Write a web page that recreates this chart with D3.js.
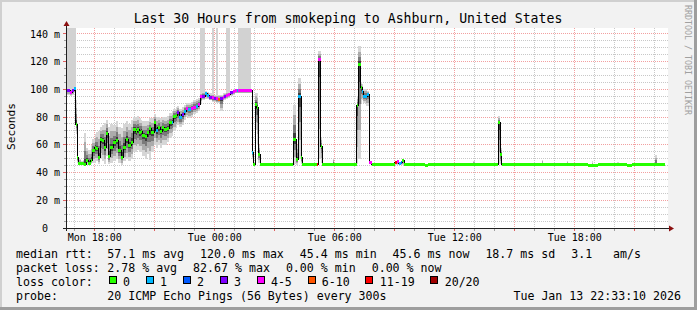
<!DOCTYPE html>
<html><head><meta charset="utf-8">
<script src="https://cdn.jsdelivr.net/npm/d3@7"></script>
<style>
html,body{margin:0;padding:0;background:#f2f2f2;}
svg{display:block;}
text{font-family:"DejaVu Sans Mono",monospace;white-space:pre;}
</style></head><body>
<svg id="c" width="697" height="310"></svg>
<script>
// ---------- data (time = hours since Mon 00:00) ----------
const times = [16.635,16.785,16.885,16.985,17.06,17.135,17.2,17.31,17.41,17.485,17.585,17.685,17.81,17.885,18.01,18.085,18.185,18.285,18.385,18.485,18.585,18.685,18.785,18.935,19.06,19.185,19.335,19.435,19.56,19.685,19.835,19.935,20.06,20.15,20.25,20.335,20.4,20.535,20.65,20.75,20.835,20.985,21.07,21.17,21.285,21.4,21.5,21.62,21.735,21.87,21.95,22.07,22.15,22.25,22.37,22.485,22.585,22.7,22.82,22.95,23.07,23.2,23.285,23.4,23.535,23.65,23.75,23.87,23.985,24.085,24.2,24.285,24.42,24.5,24.56,24.7,24.785,24.92,25.035,25.135,25.2,25.37,25.535,25.7,25.835,25.9,25.95,26.035,26.12,26.185,26.285,27.16,27.235,27.95,28.085,28.2,28.335,28.385,29.135,29.2,29.32,29.4,29.91,29.985,31.12,31.2,31.32,31.385,31.45,31.57,31.65,31.75,31.86,31.935,33.01,33.11,33.21,33.31,33.385,33.485,34.535,34.7,36.95,37.035,38.185,38.285,38.37,40.37,40.45,41.62,41.7,42.7,42.87,42.95,43.2,44.15,44.235,44.635,44.885,46.035,46.135,46.535];
const median = [99.0,97.4,99.0,100.3,74.5,50.7,46.4,46.4,46.4,46.0,49.0,46.4,49.0,55.8,57.7,57.0,50.7,63.7,63.0,57.7,67.8,51.7,57.7,61.3,63.0,55.8,51.0,58.2,63.7,59.4,61.8,70.9,69.7,70.9,69.0,69.7,66.6,65.7,68.5,71.4,68.5,75.7,70.2,72.1,69.7,72.1,70.9,71.6,75.7,76.2,80.5,81.0,83.0,79.4,81.7,84.1,85.8,85.4,85.8,87.0,87.7,89.0,94.5,95.0,96.9,95.5,93.8,93.8,93.3,93.0,92.6,93.3,94.2,94.5,95.5,96.2,97.4,98.6,99.1,99.1,99.1,99.1,99.1,99.1,99.1,54.5,45.7,89.0,86.6,52.9,45.6,45.6,45.6,63.7,49.3,95.0,50.5,45.6,45.6,121.4,58.9,45.6,45.6,45.6,88.2,117.8,101.0,98.6,95.0,95.0,96.2,47.3,46.0,45.6,47.3,47.8,46.2,47.0,48.5,45.6,45.0,45.6,45.6,45.6,75.7,52.9,45.6,45.6,45.6,45.6,45.6,45.0,45.0,45.0,45.6,45.6,45.6,45.0,45.6,45.6,45.6,45.6];
const smokeLo = [96,95,96,97,68,47,45.5,45.5,45.5,45.4,45.5,45.5,46,47,47,48,46,50,48,46,52,46,47,48,50,47,45.5,48,50,48,50,55,55,56,55,55,52,50,53,49,55,60,58,60,58,60,60,62,65,66,70,72,74,73,74,78,80,79,80,82,83,84,90,92,93,93,92,91,91,90,90,84,91,92,93,94,95,96,97,97,97,97,97,97,97,50,45.3,71,60,47,45.3,45.3,45.3,46,45.5,50,46,45.3,45.3,50,47,45.3,45.3,45.3,46,50,90,92,90,88,88,46,45.4,45.3,45.5,45.5,45.4,45.5,45.5,45.3,44.8,45.3,45.3,45.3,46,46,45.3,45.3,45.3,45.3,45.3,44.8,44.8,44.8,45.3,45.3,45.3,44.8,45.3,45.3,45.3,45.3];
const smokeHi = [101,100,101,102,92,60,50,48,49,68.5,58,56,60,64,68,69,70,73,74,76,78,73,75,74,77,73,72,75,77,75,78,80,80,81,79,78,77,77,77,79,79,82,80,80,79,80,80,81,83,84,86,87,88,86,87,89,90,90,91,92,93,94,97,98,99,98,97,97,96,96,96,96,97,97,98,98,99,100,100.5,100.5,100.5,100.5,100.5,100.5,100.5,60,47,97.6,97,60,46.2,47.5,46.2,89,60,108,58,46.2,46.2,127.4,65,46.2,50.5,46.2,95,131,105,104,100,100,99,48,46.5,46.2,48,48.5,47,48,49.5,46.2,46,46.2,48,46.2,80.5,58,46.2,49,46.2,48,46.2,46,48,46,46.2,47.5,46.2,46,46.2,52.9,46.2,46.2];
// highest outlier ping where it goes far above the normal spread (null = none)
const smokeMax = [150,150,150,150,null,null,null,null,null,null,null,null,null,null,null,null,null,null,null,null,null,null,null,null,null,null,null,null,null,null,null,null,null,null,null,null,null,null,null,null,null,null,null,null,null,null,null,null,null,null,null,null,null,null,null,null,null,null,null,null,null,null,150,150,null,null,null,150,null,150,null,null,null,null,150,150,null,null,null,null,150,150,150,150,null,null,null,null,null,null,null,null,null,null,null,null,null,null,null,null,null,null,null,null,null,null,null,null,null,null,null,null,null,null,null,null,null,null,null,null,null,null,null,null,null,null,null,null,null,null,null,null,null,null,null,null,null,null,null,null,null,null,null];
const lossIdx = [3,4,3,1,0,0,0,0,0,0,0,0,0,0,0,0,0,0,0,0,0,0,0,0,0,0,0,0,0,0,0,0,0,0,0,0,0,0,0,0,0,0,1,0,0,0,0,0,0,1,0,0,3,1,3,1,4,1,4,4,1,4,4,3,1,1,3,4,3,4,5,3,4,3,4,4,3,4,4,1,4,4,4,4,4,1,0,0,0,0,0,0,0,0,0,1,0,0,6,4,0,0,0,0,0,0,0,1,1,1,1,4,0,0,6,4,1,2,0,0,0,0,0,0,0,0,0,0,0,0,0,0,0,0,0,0,0,0,0,0,0,0];
const lossLabels = ["0","1","2","3","4-5","6-10","11-19","20/20"];
const lossColors = ["#26ff00","#00b8ff","#0059ff","#7e00ff","#ff00ff","#ff5500","#ff0000","#a00000"];
const yTicks = [0,20,40,60,80,100,120,140];
const xTickHours = [18,24,30,36,42];
const xTickLabels = ["Mon 18:00","Tue 00:00","Tue 06:00","Tue 12:00","Tue 18:00"];
const titleText = "Last 30 Hours from smokeping to Ashburn, United States";
const rttStats = ["57.1 ms avg","120.0 ms max","45.4 ms min","45.6 ms now","18.7 ms sd","3.1   am/s"];
const lossStats = ["2.78 % avg","82.67 % max","0.00 % min","0.00 % now"];
const probeText = "20 ICMP Echo Pings (56 Bytes) every 300s";
const stampText = "Tue Jan 13 22:33:10 2026";

// ---------- layout ----------
const W = 697, H = 310;
const PL = 67, PR = 668, PT = 28, PB = 228;
const x = d3.scaleLinear().domain([16.635, 46.635]).range([67, 667]);
const y = d3.scaleLinear().domain([0, 140]).range([228, 33.8]);
const CW = 6.98; // legend char width

const svg = d3.select("#c");
svg.append("rect").attr("width", W).attr("height", H).attr("fill", "#f2f2f2");
svg.append("rect").attr("x",0).attr("y",0).attr("width",W).attr("height",2).attr("fill","#d0d0d0");
svg.append("rect").attr("x",0).attr("y",0).attr("width",2).attr("height",H).attr("fill","#d0d0d0");
svg.append("rect").attr("x",W-3).attr("y",0).attr("width",3).attr("height",H).attr("fill","#9e9e9e");
svg.append("rect").attr("x",0).attr("y",H-3).attr("width",W).attr("height",3).attr("fill","#9e9e9e");

svg.append("rect").attr("x", PL).attr("y", PT).attr("width", PR - PL).attr("height", PB - PT).attr("fill", "#fff");

// grid
const grid = svg.append("g").attr("shape-rendering", "crispEdges");
for (let h = 17; h <= 46; h++) {
  const gx = Math.floor(x(h)) + 0.5;
  const major = h % 3 === 0;
  grid.append("line").attr("x1", gx).attr("x2", gx).attr("y1", PT).attr("y2", PB)
    .attr("stroke", major ? "#f2a0a0" : "#c8c8c8").attr("stroke-dasharray", "1,1");
  svg.append("line").attr("x1", gx).attr("x2", gx).attr("y1", PB + 1).attr("y2", PB + 3)
    .attr("stroke", major ? "#e06060" : "#a0a0a0");
}
for (let v = 5; v <= 140; v += 5) {
  const gy = Math.floor(y(v)) + 0.5;
  const major = v % 20 === 0;
  grid.append("line").attr("x1", PL).attr("x2", PR).attr("y1", gy).attr("y2", gy)
    .attr("stroke", major ? "#f2a0a0" : "#c8c8c8").attr("stroke-dasharray", "1,1");
  svg.append("line").attr("x1", major ? 63 : 64).attr("x2", 66).attr("y1", gy).attr("y2", gy)
    .attr("stroke", major ? "#e06060" : "#a0a0a0");
}

// clip
svg.append("clipPath").attr("id", "pc").append("rect")
  .attr("x", PL).attr("y", PT).attr("width", PR - PL).attr("height", PB - PT);
const plot = svg.append("g").attr("clip-path", "url(#pc)");

const idx = d3.range(times.length);
const area = (lo, hi) => d3.area().curve(d3.curveStepAfter)
  .x(i => x(times[i])).y0(i => y(lo(i))).y1(i => y(hi(i)));

// outlier smoke
plot.append("path").datum(idx)
  .attr("d", area(i => smokeLo[i], i => smokeMax[i] == null ? smokeHi[i] : smokeMax[i]))
  .attr("fill", "#d2d2d2").attr("shape-rendering", "crispEdges");
// graded smoke
const layers = [[1.0, "#d6d6d6"], [0.7, "#ababab"], [0.42, "#7a7a7a"], [0.18, "#3e3e3e"]];
layers.forEach(([f, c]) => {
  plot.append("path").datum(idx)
    .attr("d", area(i => median[i] - f * (median[i] - smokeLo[i]), i => median[i] + f * (smokeHi[i] - median[i])))
    .attr("fill", c).attr("shape-rendering", "crispEdges");
});

// median line
plot.append("path").datum(idx)
  .attr("d", d3.line().curve(d3.curveStepAfter).x(i => x(times[i])).y(i => y(median[i])))
  .attr("fill", "none").attr("stroke", "#000").attr("stroke-width", 1).attr("shape-rendering", "crispEdges");

// loss coloured median markers
plot.selectAll("rect.med").data(idx.slice(0, -1)).join("rect")
  .attr("class", "med")
  .attr("x", i => x(times[i]))
  .attr("width", i => Math.max(1, x(times[i + 1]) - x(times[i])))
  .attr("y", i => y(median[i]) - 1.5).attr("height", 3)
  .attr("fill", i => lossColors[lossIdx[i]])
  .attr("shape-rendering", "crispEdges");

// axes
const xAxis = d3.axisBottom(x).tickValues(xTickHours).tickFormat((d, i) => xTickLabels[i])
  .tickSizeInner(0).tickSizeOuter(0).tickPadding(5.6);
const gx = svg.append("g").attr("transform", `translate(0,${PB + 0.5})`).call(xAxis);
gx.select(".domain").remove();
gx.selectAll("text").attr("font-family", "DejaVu Sans Mono").attr("font-size", 10).attr("fill", "#000");

const yAxis = d3.axisLeft(y).tickValues(yTicks).tickFormat(d => d ? d + " m" : "0")
  .tickSizeInner(0).tickSizeOuter(0).tickPadding(6.5);
const gy = svg.append("g").attr("transform", `translate(66.5,0)`).call(yAxis);
gy.select(".domain").remove();
gy.selectAll("text").attr("font-family", "DejaVu Sans Mono").attr("font-size", 10).attr("fill", "#000")
  .attr("x", d => d ? -6.5 : -18.5);

svg.append("line").attr("x1", 63).attr("x2", 669).attr("y1", PB + 0.5).attr("y2", PB + 0.5)
  .attr("stroke", "#202020").attr("shape-rendering", "crispEdges");
svg.append("line").attr("x1", 66.5).attr("x2", 66.5).attr("y1", 231).attr("y2", 25)
  .attr("stroke", "#202020").attr("shape-rendering", "crispEdges");
svg.append("path").attr("d", "M66.5,21 L63.5,26 L69.5,26 Z").attr("fill", "#8b1010");
svg.append("path").attr("d", "M674,228.5 L669,225.5 L669,231.5 Z").attr("fill", "#8b1010");

// titles
svg.append("text").attr("x", 348).attr("y", 23.3).attr("text-anchor", "middle")
  .attr("font-size", 13.2).text(titleText);
svg.append("text").attr("transform", "translate(14.5,126.5) rotate(-90)").attr("text-anchor", "middle")
  .attr("font-size", 11.2).text("Seconds");
svg.append("text").attr("transform", "translate(685,60) rotate(90)").attr("text-anchor", "middle")
  .attr("font-size", 8.3).attr("fill", "#a0a0a0").text("RRDTOOL / TOBI OETIKER");

// legend
const L = svg.append("g").attr("font-size", 11.6).attr("fill", "#000");
const rows = [258.4, 272.2, 286.0, 299.8];
function statRow(label, items, yy) {
  L.append("text").attr("x", 16).attr("y", yy).text(label);
  let cx = 107.3;
  items.forEach(s => {
    L.append("text").attr("x", cx).attr("y", yy).text(s);
    cx += s.length * CW + 16;
  });
}
statRow("median rtt:", rttStats, rows[0]);
statRow("packet loss:", lossStats, rows[1]);
L.append("text").attr("x", 16).attr("y", rows[2]).text("loss color:");
let bx = 108.7;
lossLabels.forEach((lab, i) => {
  L.append("rect").attr("x", Math.round(bx) + 0.5).attr("y", 276.5).attr("width", 7).attr("height", 7)
    .attr("fill", lossColors[i]).attr("stroke", "#000").attr("stroke-width", 1);
  L.append("text").attr("x", bx + 14.3).attr("y", rows[2]).text(lab);
  bx += 30 + lab.length * CW;
});
L.append("text").attr("x", 16).attr("y", rows[3]).text("probe:");
L.append("text").attr("x", 107.3).attr("y", rows[3]).text(probeText);
L.append("text").attr("x", 681).attr("y", rows[3]).attr("text-anchor", "end").text(stampText);
</script>
</body></html>
